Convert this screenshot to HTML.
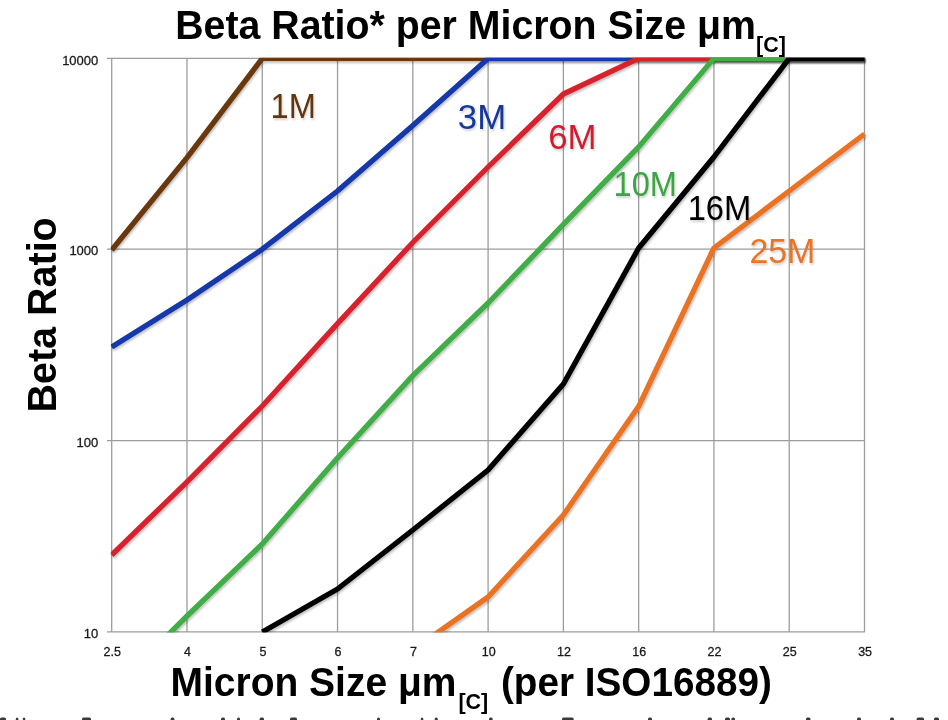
<!DOCTYPE html>
<html><head><meta charset="utf-8"><style>
html,body{margin:0;padding:0;background:#fff;width:948px;height:720px;overflow:hidden}
svg{position:absolute;left:0;top:0;will-change:transform}
text{font-family:"Liberation Sans",sans-serif}
</style></head><body>
<svg width="948" height="720" viewBox="0 0 948 720">
<defs>
<clipPath id="pa"><rect x="110.7" y="57.8" width="755.8" height="574.6"/></clipPath>
<filter id="sh" x="-5%" y="-5%" width="110%" height="115%"><feGaussianBlur in="SourceAlpha" stdDeviation="1.2"/><feOffset dx="1" dy="2" result="b"/><feComponentTransfer><feFuncA type="linear" slope="0.25"/></feComponentTransfer><feMerge><feMergeNode/><feMergeNode in="SourceGraphic"/></feMerge></filter>
<filter id="tsh" x="-10%" y="-10%" width="120%" height="130%"><feGaussianBlur in="SourceAlpha" stdDeviation="1"/><feOffset dx="1" dy="1.5"/><feComponentTransfer><feFuncA type="linear" slope="0.18"/></feComponentTransfer><feMerge><feMergeNode/><feMergeNode in="SourceGraphic"/></feMerge></filter>
</defs>
<g id="grid" stroke="#9c9c9c" stroke-width="1.3" fill="none"><line x1="111.70" y1="58.4" x2="111.70" y2="631.9"/><line x1="186.98" y1="58.4" x2="186.98" y2="631.9"/><line x1="262.26" y1="58.4" x2="262.26" y2="631.9"/><line x1="337.54" y1="58.4" x2="337.54" y2="631.9"/><line x1="412.82" y1="58.4" x2="412.82" y2="631.9"/><line x1="488.10" y1="58.4" x2="488.10" y2="631.9"/><line x1="563.38" y1="58.4" x2="563.38" y2="631.9"/><line x1="638.66" y1="58.4" x2="638.66" y2="631.9"/><line x1="713.94" y1="58.4" x2="713.94" y2="631.9"/><line x1="789.22" y1="58.4" x2="789.22" y2="631.9"/><line x1="864.50" y1="58.4" x2="864.50" y2="631.9"/><line x1="107" y1="58.4" x2="865.00" y2="58.4"/><line x1="107" y1="249.2" x2="865.00" y2="249.2"/><line x1="107" y1="440.6" x2="865.00" y2="440.6"/><line x1="107" y1="631.9" x2="865.00" y2="631.9"/></g>
<g id="lines" clip-path="url(#pa)" fill="none" stroke-width="5.3" stroke-linejoin="round" stroke-linecap="butt"><path d="M111.7,250.0 L187.0,157.6 L262.3,58.4 L864.5,58.4" stroke="#6b3810" filter="url(#sh)"/><path d="M111.7,347.0 L187.0,300.0 L262.3,249.2 L337.5,191.0 L412.8,125.5 L488.1,58.4 L864.5,58.4" stroke="#1238a8" filter="url(#sh)"/><path d="M111.7,555.0 L187.0,481.8 L262.3,406.0 L337.5,323.6 L412.8,242.5 L488.1,167.0 L563.4,94.0 L638.7,58.4 L864.5,58.4" stroke="#d7222e" filter="url(#sh)"/><path d="M111.7,691.0 L187.0,616.0 L262.3,544.0 L337.5,458.0 L412.8,375.6 L488.1,303.0 L563.4,224.4 L638.7,146.9 L713.9,58.4 L864.5,58.4" stroke="#40ad46" filter="url(#sh)"/><path d="M262.3,632.0 L337.5,589.0 L412.8,530.0 L488.1,470.0 L563.4,384.0 L638.7,248.0 L713.9,157.0 L789.2,58.4 L864.5,58.4" stroke="#000000" filter="url(#sh)"/><path d="M412.8,650.0 L488.1,597.0 L563.4,515.0 L638.7,406.3 L713.9,248.0 L789.2,191.0 L864.5,134.0" stroke="#e97323" filter="url(#sh)"/></g>
<g font-size="13" fill="#1a1a1a" stroke="#1a1a1a" stroke-width="0.3"><text x="98.3" y="64.6" text-anchor="end">10000</text><text x="98.3" y="255.4" text-anchor="end">1000</text><text x="98.3" y="446.8" text-anchor="end">100</text><text x="98.3" y="638.1" text-anchor="end">10</text></g>
<g font-size="12.5" fill="#1a1a1a" stroke="#1a1a1a" stroke-width="0.3"><text x="112.3" y="656" text-anchor="middle">2.5</text><text x="187.6" y="656" text-anchor="middle">4</text><text x="262.9" y="656" text-anchor="middle">5</text><text x="338.1" y="656" text-anchor="middle">6</text><text x="413.4" y="656" text-anchor="middle">7</text><text x="488.7" y="656" text-anchor="middle">10</text><text x="564.0" y="656" text-anchor="middle">12</text><text x="639.3" y="656" text-anchor="middle">16</text><text x="714.5" y="656" text-anchor="middle">22</text><text x="789.8" y="656" text-anchor="middle">25</text><text x="865.1" y="656" text-anchor="middle">35</text></g>
<g font-size="35" filter="url(#tsh)"><text x="270.5" y="117.5" fill="#643510" textLength="45.3" lengthAdjust="spacingAndGlyphs">1M</text><text x="457.8" y="129.2" fill="#15379c" textLength="48.3" lengthAdjust="spacingAndGlyphs">3M</text><text x="548.2" y="148.8" fill="#cf1f2e" textLength="48.4" lengthAdjust="spacingAndGlyphs">6M</text><text x="613.5" y="196.3" fill="#3ea446" textLength="63.5" lengthAdjust="spacingAndGlyphs">10M</text><text x="687.7" y="220.4" fill="#000" textLength="63.6" lengthAdjust="spacingAndGlyphs">16M</text><text x="749.4" y="262.6" fill="#e5742a" textLength="66" lengthAdjust="spacingAndGlyphs">25M</text></g>
<text transform="translate(0,39.3) scale(1,1.045) translate(0,-39.3)" x="175.2" y="39.3" font-size="39.3" font-weight="bold" fill="#000">Beta Ratio* per Micron Size μm<tspan font-size="21.5" dy="11.9" dx="0">[C]</tspan></text>
<text transform="translate(55.7,412.5) rotate(-90) scale(1,1.02)" font-size="39.5" font-weight="bold" fill="#000">Beta Ratio</text>
<text transform="translate(0,695.8) scale(1,1.033) translate(0,-695.8)" x="170.5" y="695.8" font-size="39" font-weight="bold" fill="#000">Micron Size μm<tspan font-size="21.5" dy="13" dx="2">[C]</tspan><tspan dy="-13" dx="2" font-size="38.7"> (per ISO16889)</tspan></text>
<g fill="#3a3a3a"><rect x="0.0" y="717.6" width="6.0" height="5" rx="1.5"/><rect x="15.8" y="717.6" width="2.6" height="5" rx="1.5"/><rect x="22.8" y="717.6" width="2.5" height="5" rx="1.5"/><rect x="82.0" y="717.6" width="9.0" height="5" rx="1.5"/><rect x="170.6" y="717.6" width="3.8" height="5" rx="1.5"/><rect x="221.0" y="717.6" width="4.0" height="5" rx="1.5"/><rect x="237.0" y="717.6" width="3.0" height="5" rx="1.5"/><rect x="259.6" y="717.6" width="4.4" height="5" rx="1.5"/><rect x="290.0" y="717.6" width="7.0" height="5" rx="1.5"/><rect x="377.0" y="717.6" width="3.0" height="5" rx="1.5"/><rect x="420.8" y="717.6" width="2.5" height="5" rx="1.5"/><rect x="434.7" y="717.6" width="3.1" height="5" rx="1.5"/><rect x="489.0" y="717.6" width="3.7" height="5" rx="1.5"/><rect x="562.0" y="717.6" width="11.7" height="5" rx="1.5"/><rect x="648.0" y="717.6" width="4.0" height="5" rx="1.5"/><rect x="707.6" y="717.6" width="4.4" height="5" rx="1.5"/><rect x="725.0" y="717.6" width="5.0" height="5" rx="1.5"/><rect x="731.4" y="717.6" width="3.6" height="5" rx="1.5"/><rect x="806.0" y="717.6" width="4.5" height="5" rx="1.5"/><rect x="857.0" y="717.6" width="4.0" height="5" rx="1.5"/><rect x="890.0" y="717.6" width="4.0" height="5" rx="1.5"/><rect x="916.6" y="717.6" width="7.4" height="5" rx="1.5"/><rect x="934.0" y="717.6" width="5.0" height="5" rx="1.5"/></g>
</svg>
</body></html>
